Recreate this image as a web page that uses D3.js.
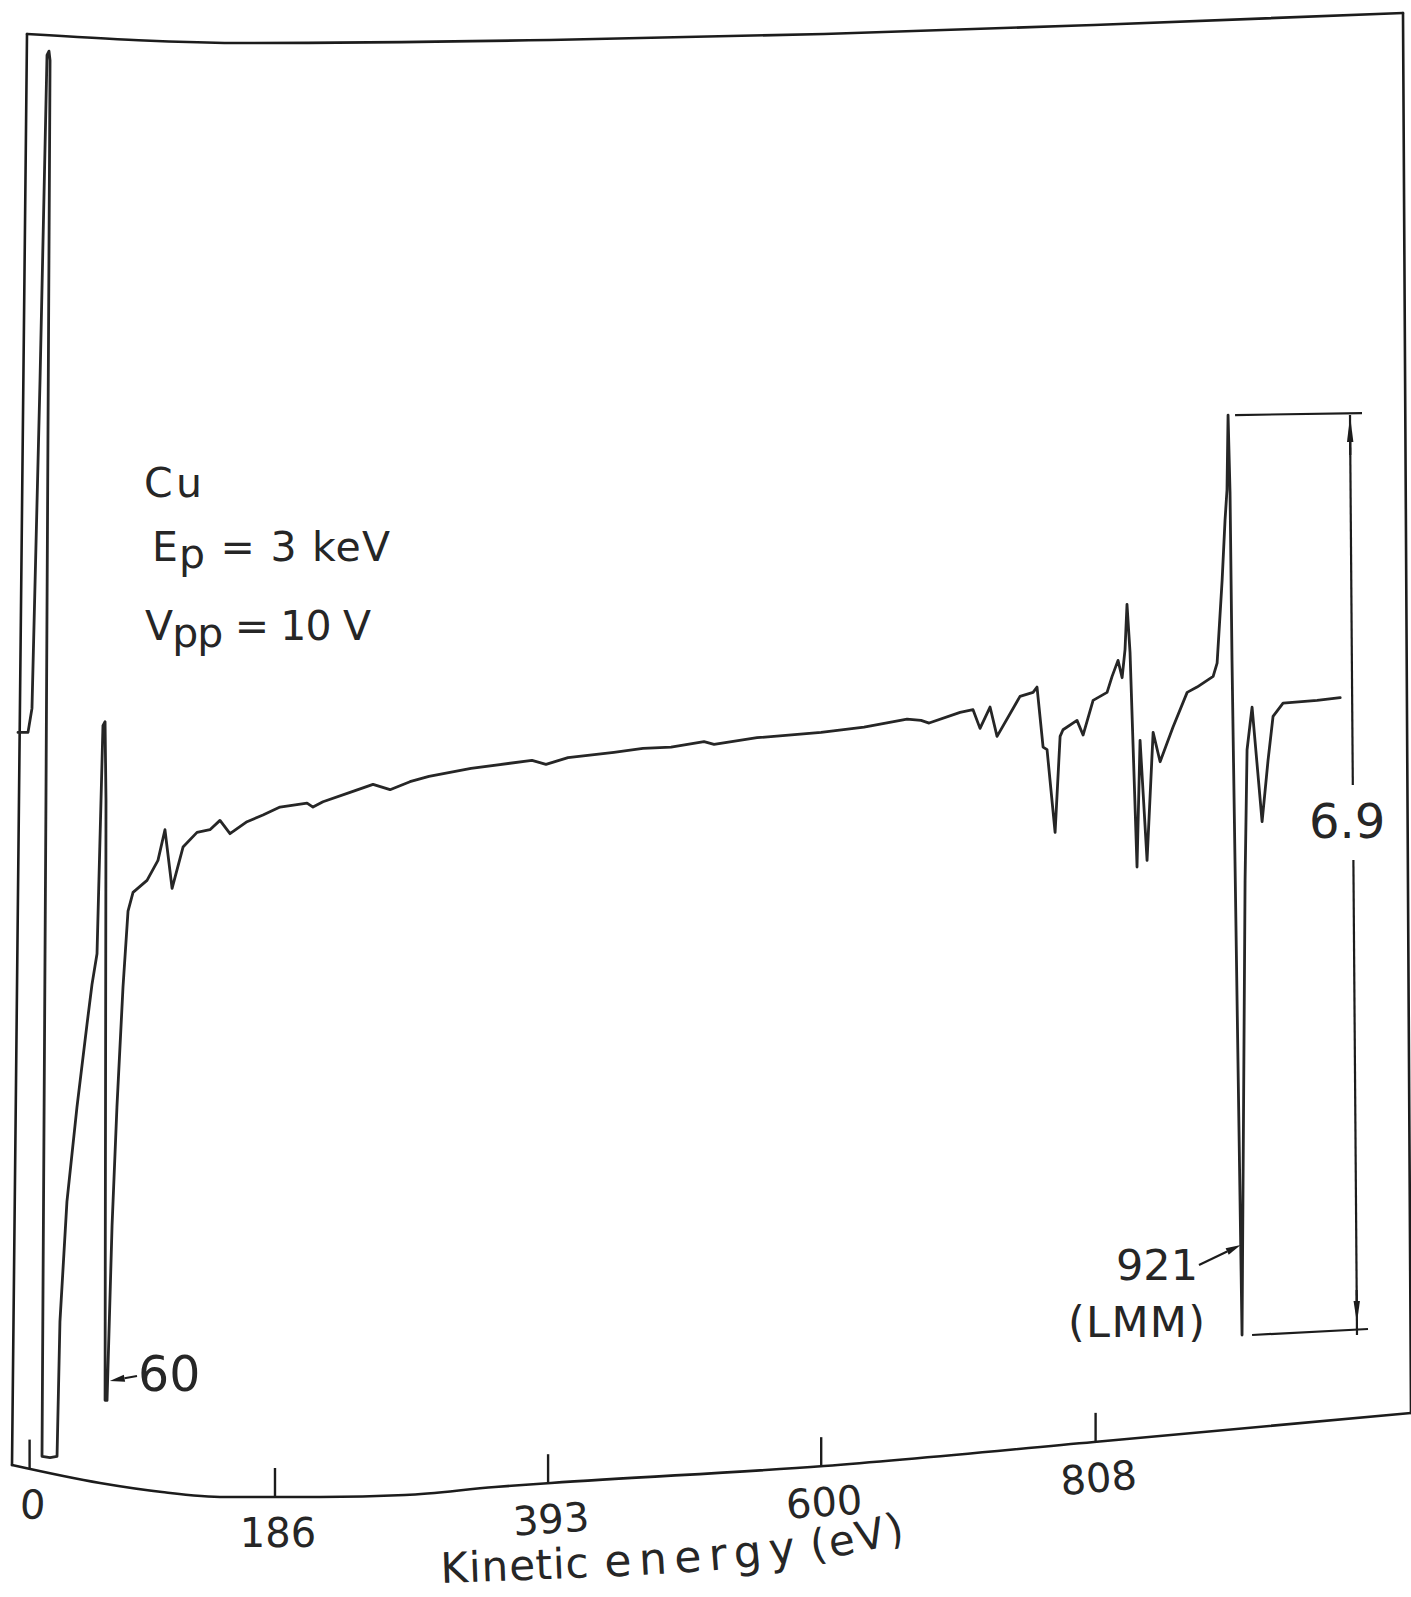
<!DOCTYPE html>
<html>
<head>
<meta charset="utf-8">
<script src="https://cdn.jsdelivr.net/npm/d3@7"></script>
<style>
  html, body { margin: 0; padding: 0; background: #fff; }
  svg { display: block; }
</style>
</head>
<body>
<script>
// Cu Auger spectrum, dN/dE in arbitrary units against kinetic energy (eV),
// traced by a chart recorder on slightly curved paper.

// ---- data ----
const energy = [
  -8.8, -1.2, 1.8, 7.9, 13.2, 14.7, 15.5, 12.4, 9.4, 15.5,
  20.8, 23.0, 28.3, 35.9, 43.5, 47.3, 51.1, 55.6, 57.2, 57.9,
  57.2, 58.7, 62.5, 66.2, 70.8, 74.6, 78.4, 89.0, 97.3, 102.6,
  108.0, 116.3, 126.9, 136.7, 144.3, 151.9, 164.8, 176.9, 189.8, 210.3,
  214.8, 222.4, 242.9, 260.3, 273.2, 288.3, 302.7, 334.6, 380.8, 391.4,
  408.1, 442.9, 464.9, 486.2, 511.2, 518.8, 551.4, 599.9, 632.5, 665.1,
  675.7, 681.8, 705.3, 715.1, 720.4, 728.0, 733.3, 750.7, 760.6, 763.6,
  768.2, 771.2, 777.3, 781.1, 783.3, 793.9, 798.5, 806.1, 816.7, 820.5,
  825.0, 828.1, 830.3, 831.8, 834.1, 839.4, 841.7, 847.0, 851.6, 856.9,
  866.7, 877.4, 884.9, 897.1, 900.1, 903.9, 906.1, 907.6, 908.4, 909.9,
  911.4, 919.0, 921.3, 922.8, 926.6, 934.2, 938.7, 942.5, 950.1, 975.9, 993.4
];
const signal = [
  5.51, 5.51, 5.69, 8.15, 10.59, 10.62, 10.55, 5.00, 0.08, 0.07,
  0.08, 1.09, 1.99, 2.70, 3.32, 3.62, 3.85, 5.56, 5.59, 5.00,
  0.50, 0.50, 1.81, 2.70, 3.60, 4.17, 4.31, 4.40, 4.55, 4.78,
  4.34, 4.65, 4.76, 4.78, 4.85, 4.75, 4.84, 4.89, 4.95, 4.98,
  4.95, 4.99, 5.06, 5.12, 5.08, 5.14, 5.18, 5.24, 5.30, 5.27,
  5.32, 5.36, 5.39, 5.40, 5.44, 5.42, 5.47, 5.51, 5.55, 5.61,
  5.60, 5.58, 5.66, 5.68, 5.54, 5.70, 5.48, 5.78, 5.81, 5.85,
  5.40, 5.38, 4.76, 5.48, 5.53, 5.60, 5.49, 5.75, 5.81, 5.93,
  6.05, 5.92, 6.13, 6.47, 6.11, 4.50, 5.45, 4.55, 5.51, 5.29,
  5.55, 5.81, 5.85, 5.93, 6.03, 6.65, 7.10, 7.33, 7.89, 7.31,
  6.05, 0.99, 4.40, 5.38, 5.70, 4.84, 5.30, 5.63, 5.73, 5.75, 5.77
];
const tickValues = [0, 186, 393, 600, 808];
const tickLabels = ["0", "186", "393", "600", "808"];
const axisTitleWords = ["Kinetic", "energy", "(eV)"];
const sampleName = "Cu";
const primaryEnergy = ["E", "p", " = 3 keV"];
const modulation = ["V", "pp", " = 10 V"];
const lowPeakEnergy = 60;
const lmmPeakEnergy = 921;
const lmmLabel = "(LMM)";
const lmmWindow = [895, 925];   // eV range holding the LMM peak-to-peak excursion

// ---- page ----
const W = 1411, H = 1597;
const svg = d3.select("body").append("svg")
  .attr("width", W).attr("height", H)
  .attr("viewBox", `0 0 ${W} ${H}`);
svg.append("rect").attr("width", W).attr("height", H).attr("fill", "#fff");

const INK = "#1c1c1c";
const PEN = "#262626";
const TEXT = "#262626";
const FONT = "'DejaVu Sans', 'Liberation Sans', sans-serif";

// ---- scales ----
const x = d3.scaleLinear().domain([0, 808]).range([29.6, 1095.6]);
const y = d3.scaleLinear().domain([0, 8]).range([1467, 400.4]);

// curved recorder paper: edges of the frame
const bottomEdge = [[12,1465],[100,1483],[162,1492],[225,1497],[320,1497],[405,1495],
                    [495,1487],[551,1483],[824,1466],[1094,1442],[1411,1413]];
const topEdge = [[27,34],[250,43],[550,40],[824,34],[1094,25],[1403,13]];
const bottomAt = d3.scaleLinear().domain(bottomEdge.map(d => d[0])).range(bottomEdge.map(d => d[1]));
const slopeAt = px => {
  const d = 6;
  const a = Math.atan2(bottomAt(px + d) - bottomAt(px - d), 2 * d) * 180 / Math.PI;
  return Math.max(-6, Math.min(3, a));
};

const edgeLine = d3.line().curve(d3.curveMonotoneX);
const frame = svg.append("g")
  .attr("fill", "none").attr("stroke", INK).attr("stroke-width", 2.6)
  .attr("stroke-linecap", "round");
frame.append("path").attr("d", edgeLine(topEdge));
frame.append("path").attr("d", edgeLine(bottomEdge));
frame.append("path").attr("d", d3.line()([topEdge[0], bottomEdge[0]]));
frame.append("path").attr("d", d3.line()([topEdge[topEdge.length - 1], bottomEdge[bottomEdge.length - 1]]));

// ---- energy axis on the curved lower edge ----
const ticks = svg.append("g").selectAll("g").data(tickValues).join("g");
ticks.append("line")
  .attr("x1", d => x(d)).attr("x2", d => x(d))
  .attr("y1", d => bottomAt(x(d)))
  .attr("y2", d => bottomAt(x(d)) - 29)
  .attr("stroke", INK).attr("stroke-width", 2.4);
ticks.append("text")
  .attr("transform", d => {
    const px = x(d) + 3, py = bottomAt(x(d)) + 36;
    return `translate(${px},${py}) rotate(${slopeAt(x(d))})`;
  })
  .attr("text-anchor", "middle")
  .attr("dominant-baseline", "central")
  .attr("font-family", FONT).attr("font-size", 40)
  .attr("fill", TEXT)
  .text((d, i) => tickLabels[i]);

// axis title follows the bend of the paper
const titlePath = [[441,1583],[640,1575],[760,1566],[845,1555],[912,1539]];
svg.append("defs").append("path")
  .attr("id", "title-path")
  .attr("d", d3.line().curve(d3.curveNatural)(titlePath));
const titleOffsets = [0, 164, 372];
const titleLengths = [148, 192, 96];
const titleSizes = [42, 44, 42];
const title = svg.append("text")
  .attr("font-family", FONT).attr("fill", TEXT);
axisTitleWords.forEach((w, i) => {
  title.append("textPath")
    .attr("href", "#title-path")
    .attr("startOffset", titleOffsets[i])
    .attr("font-size", titleSizes[i])
    .attr("textLength", titleLengths[i]).attr("lengthAdjust", "spacing")
    .text(w);
});

// ---- spectrum ----
const trace = energy.map((e, i) => [e, signal[i]]);
svg.append("path")
  .datum(trace)
  .attr("fill", "none")
  .attr("stroke", PEN)
  .attr("stroke-width", 2.8)
  .attr("stroke-linejoin", "round")
  .attr("stroke-linecap", "round")
  .attr("d", d3.line().x(d => x(d[0])).y(d => y(d[1])));

// ---- sample conditions ----
const info = svg.append("g").attr("font-family", FONT).attr("fill", TEXT).attr("font-size", 41);
info.append("text").attr("x", 144).attr("y", 497)
  .attr("textLength", 58).attr("lengthAdjust", "spacing").text(sampleName);
function subscripted(parts, px, py, len) {
  const t = info.append("text").attr("x", px).attr("y", py)
    .attr("textLength", len).attr("lengthAdjust", "spacing");
  t.append("tspan").text(parts[0]);
  t.append("tspan").attr("dy", 7).text(parts[1]);
  t.append("tspan").attr("dy", -7).text(parts[2]);
}
subscripted(primaryEnergy, 152, 561, 238);
subscripted(modulation, 145, 640, 226);

// ---- arrows and peak labels ----
function arrow(g, x1, y1, x2, y2, len = 15, hw = 3.6) {
  const dx = x2 - x1, dy = y2 - y1, L = Math.hypot(dx, dy);
  const ux = dx / L, uy = dy / L;
  const bx = x2 - ux * len, by = y2 - uy * len;
  g.append("line").attr("x1", x1).attr("y1", y1).attr("x2", bx).attr("y2", by)
    .attr("stroke", INK).attr("stroke-width", 2.2);
  g.append("path")
    .attr("d", d3.line()([[x2, y2], [bx - uy * hw, by + ux * hw], [bx + uy * hw, by - ux * hw]]) + "Z")
    .attr("fill", INK);
}
const notes = svg.append("g");

// 60 eV peak
arrow(notes, 137, 1376, x(lowPeakEnergy) + 1, 1381);
notes.append("text").attr("x", 138).attr("y", 1391)
  .attr("font-family", FONT).attr("font-size", 49).attr("fill", TEXT)
  .text(String(lowPeakEnergy));

// 921 eV LMM peak
arrow(notes, 1199, 1265, x(lmmPeakEnergy) - 4, 1245);
notes.append("text").attr("x", 1116).attr("y", 1280)
  .attr("font-family", FONT).attr("font-size", 43).attr("fill", TEXT)
  .text(String(lmmPeakEnergy));
notes.append("text").attr("x", 1068).attr("y", 1337)
  .attr("font-family", FONT).attr("font-size", 43).attr("fill", TEXT)
  .attr("textLength", 137).attr("lengthAdjust", "spacing")
  .text(lmmLabel);

// ---- peak-to-peak height of the LMM line ----
const inWindow = trace.filter(d => d[0] >= lmmWindow[0] && d[0] <= lmmWindow[1]);
const pMax = d3.greatest(inWindow, d => d[1]);
const pMin = d3.least(inWindow, d => d[1]);
const p2p = pMax[1] - pMin[1];
const yTop = y(pMax[1]), yBot = y(pMin[1]);
const barX0 = 1350, barX1 = 1357;
const labelTop = 785, labelBot = 860;
const bracket = svg.append("g").attr("stroke", INK).attr("stroke-width", 2.2).attr("fill", "none");
bracket.append("line").attr("x1", x(pMax[0]) + 7).attr("x2", 1362).attr("y1", yTop).attr("y2", yTop - 2);
bracket.append("line").attr("x1", x(pMin[0]) + 10).attr("x2", 1368).attr("y1", yBot).attr("y2", yBot - 6);
const barAt = yy => barX0 + (barX1 - barX0) * (yy - yTop) / (yBot - yTop);
bracket.append("line").attr("x1", barAt(yTop)).attr("y1", yTop).attr("x2", barAt(labelTop)).attr("y2", labelTop);
bracket.append("line").attr("x1", barAt(labelBot)).attr("y1", labelBot).attr("x2", barAt(yBot)).attr("y2", yBot);
// dimension arrowheads
arrow(notes, barAt(yTop + 40), yTop + 40, barAt(yTop + 1), yTop + 1, 26, 3.2);
arrow(notes, barAt(yBot - 45), yBot - 45, barAt(yBot - 12), yBot - 12, 22, 3.2);
notes.append("text").attr("x", 1309).attr("y", 838)
  .attr("font-family", FONT).attr("font-size", 48).attr("fill", TEXT)
  .text(d3.format(".1f")(p2p));
</script>
</body>
</html>
